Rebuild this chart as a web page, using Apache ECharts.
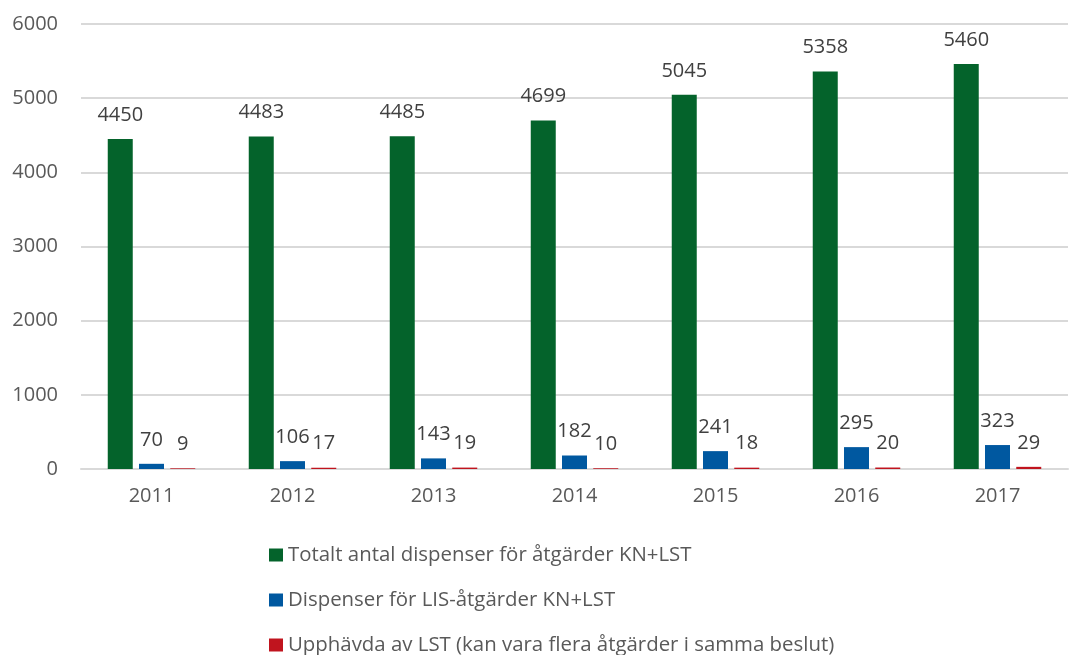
<!DOCTYPE html>
<html>
<head>
<meta charset="utf-8">
<script src="https://cdn.jsdelivr.net/npm/echarts@6/dist/echarts.min.js"></script>
<style>
  html, body { margin: 0; padding: 0; background: #fff; }
  #chart { width: 1069px; height: 655px; }
</style>
</head>
<body>
<div id="chart"></div>
<script>
// kategorier (år)
var years = ['2011', '2012', '2013', '2014', '2015', '2016', '2017']
// serier
var totalt = [4450, 4483, 4485, 4699, 5045, 5358, 5460]
var lis = [70, 106, 143, 182, 241, 295, 323]
var upphavda = [9, 17, 19, 10, 18, 20, 29]
var seriesNames = [
  'Totalt antal dispenser för åtgärder KN+LST',
  'Dispenser för LIS-åtgärder KN+LST',
  'Upphävda av LST (kan vara flera åtgärder i samma beslut)'
]

var font = '"Open Sans", sans-serif'
var chart = echarts.init(document.getElementById('chart'))

function bar(name, data, color) {
  return {
    name: name,
    type: 'bar',
    data: data,
    barWidth: 25,
    barGap: '25%',
    itemStyle: { color: color },
    label: {
      show: true,
      position: 'top',
      distance: 14,
      color: '#404040',
      fontSize: 20,
      fontFamily: font
    }
  }
}

chart.setOption({
  animation: false,
  textStyle: { fontFamily: font },
  grid: { left: 81, right: 1, top: 24, bottom: 186 },
  legend: {
    orient: 'vertical',
    left: 264,
    top: 540,
    height: 200,
    itemWidth: 14,
    itemHeight: 13,
    itemGap: 25,
    icon: 'rect',
    textStyle: { color: '#595959', fontSize: 20.4, fontFamily: font },
    data: seriesNames
  },
  xAxis: {
    type: 'category',
    data: years,
    axisLine: { lineStyle: { color: '#d9d9d9', width: 2 } },
    axisTick: { show: false },
    axisLabel: { color: '#595959', fontSize: 20, margin: 17, fontFamily: font }
  },
  yAxis: {
    type: 'value',
    min: 0,
    max: 6000,
    interval: 1000,
    axisLine: { show: false },
    axisTick: { show: false },
    splitLine: { lineStyle: { color: '#d9d9d9', width: 2 } },
    axisLabel: {
      color: '#595959', fontSize: 20, margin: 23, fontFamily: font,
      formatter: function (v) { return String(v) }
    }
  },
  series: [
    bar(seriesNames[0], totalt, '#04632B'),
    bar(seriesNames[1], lis, '#0058A0'),
    bar(seriesNames[2], upphavda, '#C0141E')
  ]
})
</script>
</body>
</html>
